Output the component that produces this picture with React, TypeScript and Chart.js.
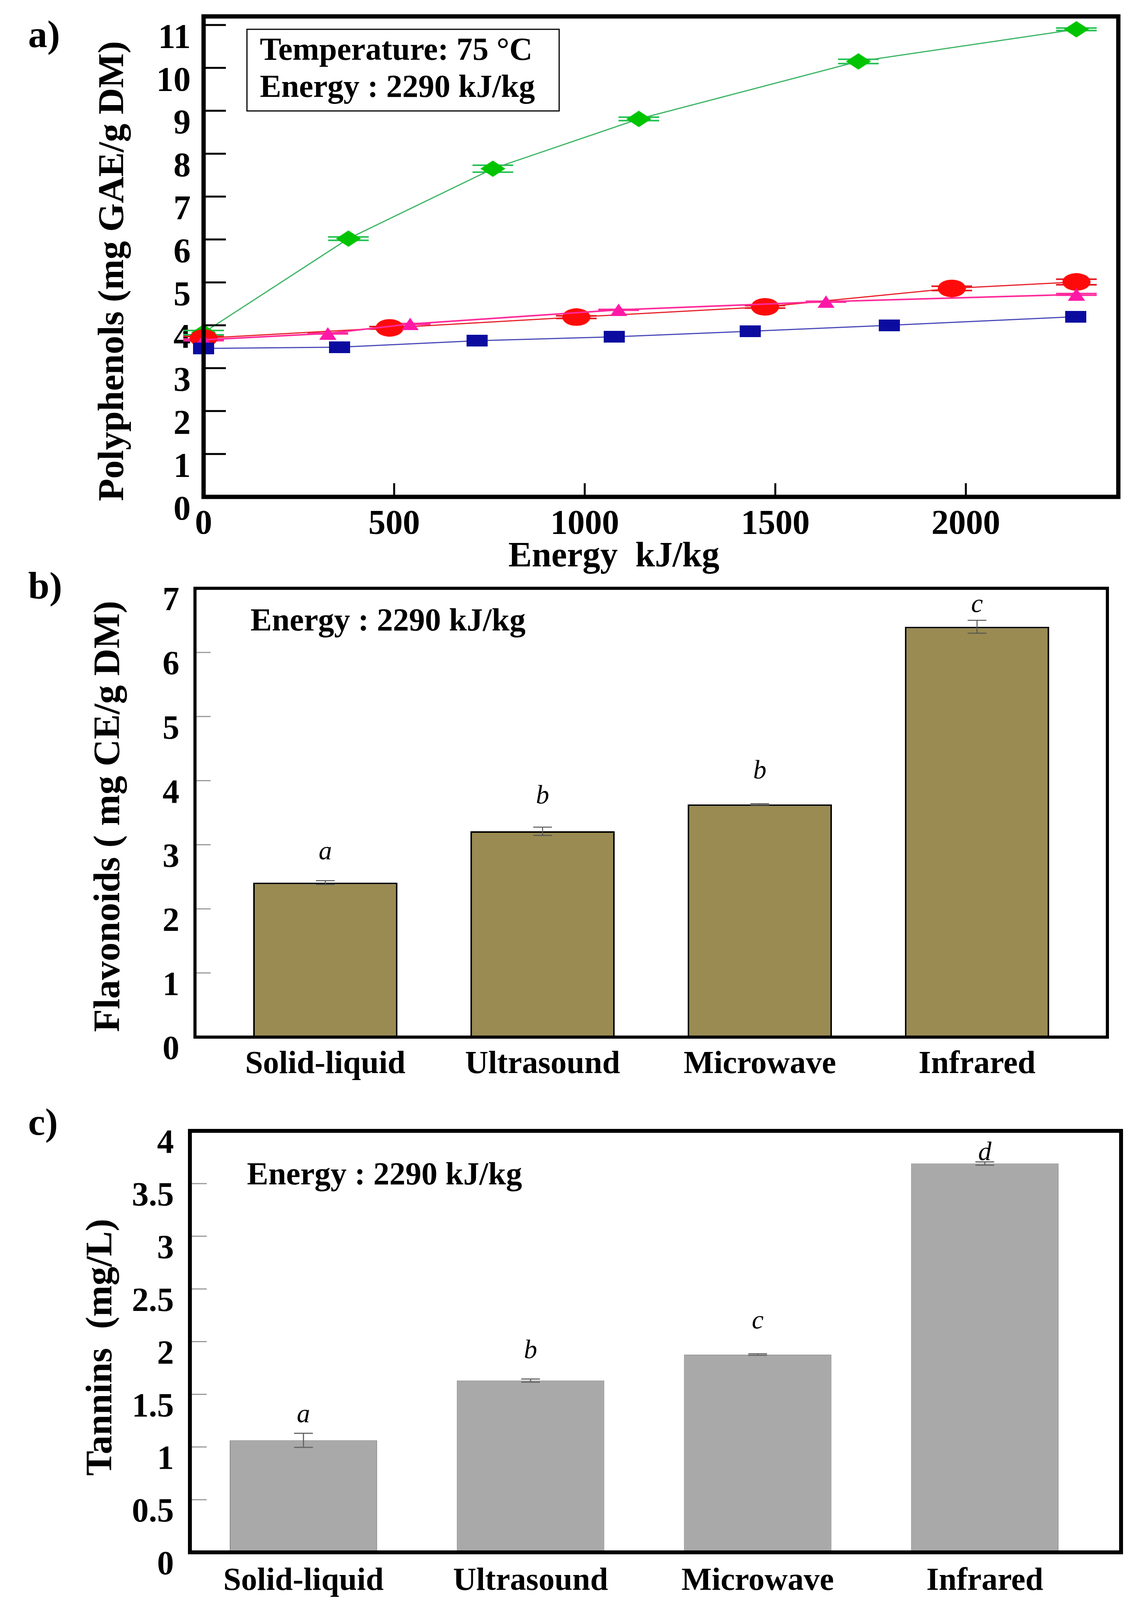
import React, { useEffect, useRef } from "react";
import { Chart, registerables } from "chart.js";

Chart.register(...registerables);

const SERIF = '"Liberation Serif", "Times New Roman", Times, serif';
const PAGE_W = 2897;

// ---------- Panel a : polyphenols vs energy ----------
const energyMax = 2400;
const energyTicks = [0, 500, 1000, 1500, 2000];
const polyMax = 11.2;
const greenX = [0, 380, 759, 1142, 1718, 2290];
const greenY = [3.83, 6.02, 7.65, 8.81, 10.15, 10.9];
const greenErr = [0.05, 0.04, 0.08, 0.04, 0.05, 0.03];
const redX = [0, 488, 978, 1473, 1963, 2290];
const redY = [3.7, 3.94, 4.19, 4.43, 4.86, 5.01];
const redErr = [0.04, 0.03, 0.03, 0.03, 0.05, 0.065];
const pinkX = [0, 326, 542, 1089, 1633, 2290];
const pinkY = [3.66, 3.81, 4.03, 4.36, 4.55, 4.72];
const pinkErr = [0.02, 0.01, 0.01, 0.01, 0.01, 0.02];
const blueX = [0, 357, 718, 1077, 1434, 1799, 2288];
const blueY = [3.46, 3.49, 3.64, 3.73, 3.86, 4.0, 4.2];

// ---------- Panels b and c : methods ----------
const methods = ["Solid-liquid", "Ultrasound", "Microwave", "Infrared"];
const flavValues = [2.41, 3.21, 3.63, 6.4];
const flavErr = [0.03, 0.065, 0.01, 0.1];
const flavLetters = ["a", "b", "b", "c"];
const flavLetterY = [2.88, 3.75, 4.14, 6.74];
const tanValues = [1.063, 1.63, 1.877, 3.69];
const tanErr = [0.067, 0.015, 0.007, 0.015];
const tanLetters = ["a", "b", "c", "d"];
const tanLetterY = [1.3, 1.91, 2.19, 3.79];

function marker(kind: string, w: number, h: number, color: string) {
  const c = document.createElement("canvas");
  c.width = w;
  c.height = h;
  const g = c.getContext("2d")!;
  g.fillStyle = color;
  g.beginPath();
  if (kind === "diamond") {
    g.moveTo(w / 2, 0);
    g.lineTo(w, h / 2);
    g.lineTo(w / 2, h);
    g.lineTo(0, h / 2);
  } else if (kind === "ellipse") {
    g.ellipse(w / 2, h / 2, w / 2, h / 2, 0, 0, Math.PI * 2);
  } else if (kind === "triangle") {
    g.moveTo(w / 2, 0);
    g.lineTo(w, h);
    g.lineTo(0, h);
  } else {
    g.rect(0, 0, w, h);
  }
  g.closePath();
  g.fill();
  return c;
}

function font(size: number, weight = "bold", style = "normal") {
  return `${style} ${weight} ${size}px ${SERIF}`;
}

function hText(ctx: CanvasRenderingContext2D, s: string, x: number, y: number, f: string, align: CanvasTextAlign = "left") {
  ctx.save();
  ctx.font = f;
  ctx.fillStyle = "#000";
  ctx.textAlign = align;
  ctx.textBaseline = "alphabetic";
  ctx.fillText(s, x, y);
  ctx.restore();
}

function vText(ctx: CanvasRenderingContext2D, s: string, x: number, y: number, f: string) {
  ctx.save();
  ctx.translate(x, y);
  ctx.rotate(-Math.PI / 2);
  ctx.font = f;
  ctx.fillStyle = "#000";
  ctx.textAlign = "center";
  ctx.textBaseline = "alphabetic";
  ctx.fillText(s, 0, 0);
  ctx.restore();
}

function frame(chart: any, lw: number) {
  const { ctx, chartArea: a } = chart;
  ctx.save();
  ctx.strokeStyle = "#000";
  ctx.lineWidth = lw;
  ctx.strokeRect(a.left, a.top, a.right - a.left, a.bottom - a.top);
  ctx.restore();
}

function inwardTicks(chart: any, axis: "x" | "y", len: number, lw: number, color: string) {
  const { ctx, chartArea: a } = chart;
  const s = chart.scales[axis];
  ctx.save();
  ctx.strokeStyle = color;
  ctx.lineWidth = lw;
  for (const t of s.ticks) {
    if (t.value <= s.min || t.value >= s.max) continue;
    const p = s.getPixelForValue(t.value);
    ctx.beginPath();
    if (axis === "y") {
      ctx.moveTo(a.left, p);
      ctx.lineTo(a.left + len, p);
    } else {
      ctx.moveTo(p, a.bottom);
      ctx.lineTo(p, a.bottom - len);
    }
    ctx.stroke();
  }
  ctx.restore();
}

function fixY(w: number) {
  return (s: any) => {
    s.width = w;
    s.paddingTop = 0;
    s.paddingBottom = 0;
    s.paddingLeft = 0;
    s.paddingRight = 0;
  };
}
function fixX(h: number) {
  return (s: any) => {
    s.height = h;
    s.paddingTop = 0;
    s.paddingBottom = 0;
    s.paddingLeft = 0;
    s.paddingRight = 0;
  };
}

function decorPlugin(top: number, before: (c: any) => void, after: (c: any) => void, page: (ctx: CanvasRenderingContext2D) => void) {
  return {
    id: "decor",
    beforeDatasetsDraw(chart: any) {
      before(chart);
    },
    afterDraw(chart: any) {
      after(chart);
      const ctx = chart.ctx;
      ctx.save();
      ctx.translate(0, -top);
      page(ctx);
      ctx.restore();
    },
  };
}

function pts(xs: number[], ys: number[]) {
  return xs.map((x, i) => ({ x, y: ys[i] }));
}

// ---------------- Panel a ----------------
const A_TOP = 0;
const A_H = 1480;
function buildA() {
  const mk = {
    green: marker("diamond", 64, 42, "#00c400"),
    red: marker("ellipse", 72, 45, "#ff0a0a"),
    pink: marker("triangle", 44, 32, "#ff18a8"),
    blue: marker("rect", 54, 30, "#0b0ba0"),
  };
  const caps = [
    { xs: greenX, ys: greenY, es: greenErr, color: "#22c050" },
    { xs: redX, ys: redY, es: redErr, color: "#e0141c" },
    { xs: pinkX, ys: pinkY, es: pinkErr, color: "#ff2aa0" },
  ];
  const base = { showLine: true, tension: 0, pointRadius: 20, pointBorderWidth: 0, clip: false as any };
  const tickFont = { family: SERIF, size: 88, weight: "bold" as any };
  return {
    type: "scatter" as const,
    data: {
      datasets: [
        { ...base, label: "blue", data: pts(blueX, blueY), borderColor: "#4a4ab8", borderWidth: 3, pointStyle: mk.blue },
        { ...base, label: "pink", data: pts(pinkX, pinkY), borderColor: "#ff2a9a", borderWidth: 4, pointStyle: mk.pink },
        { ...base, label: "red", data: pts(redX, redY), borderColor: "#e8202a", borderWidth: 3, pointStyle: mk.red },
        { ...base, label: "green", data: pts(greenX, greenY), borderColor: "#3db565", borderWidth: 3, pointStyle: mk.green },
      ],
    },
    options: {
      animation: false,
      responsive: false,
      devicePixelRatio: 1,
      layout: { padding: { left: 0, top: 42, right: PAGE_W - 2862, bottom: A_H - 1272 - 150 } },
      plugins: { legend: { display: false }, tooltip: { enabled: false } },
      scales: {
        x: {
          type: "linear",
          min: 0,
          max: energyMax,
          afterFit: fixX(150),
          afterBuildTicks: (s: any) => { s.ticks = energyTicks.map((v) => ({ value: v })); },
          grid: { display: false, drawTicks: false },
          border: { display: false },
          ticks: {
            autoSkip: false,
            maxRotation: 0,
            padding: 18,
            color: "#000",
            font: tickFont,
            callback: (v: any) => String(v),
          },
        },
        y: {
          type: "linear",
          min: 0,
          max: polyMax,
          afterFit: fixY(521),
          grid: { display: false, drawTicks: false },
          border: { display: false },
          ticks: {
            stepSize: 1,
            includeBounds: false,
            autoSkip: false,
            padding: 33,
            labelOffset: 35,
            color: "#000",
            font: tickFont,
            callback: (v: any) => String(v),
          },
        },
      },
    },
    plugins: [
      decorPlugin(
        A_TOP,
        (chart) => {
          const { ctx } = chart;
          const sx = chart.scales.x;
          const sy = chart.scales.y;
          ctx.save();
          ctx.lineWidth = 4;
          for (const c of caps) {
            ctx.strokeStyle = c.color;
            c.xs.forEach((xv, i) => {
              const px = sx.getPixelForValue(xv);
              for (const yv of [c.ys[i] - c.es[i], c.ys[i] + c.es[i]]) {
                const py = sy.getPixelForValue(yv);
                ctx.beginPath();
                ctx.moveTo(px - 52, py);
                ctx.lineTo(px + 52, py);
                ctx.stroke();
              }
            });
          }
          ctx.restore();
        },
        (chart) => {
          inwardTicks(chart, "y", 57, 5, "#000");
          inwardTicks(chart, "x", 35, 5, "#000");
          frame(chart, 11);
        },
        (ctx) => {
          ctx.save();
          ctx.strokeStyle = "#000";
          ctx.lineWidth = 3;
          ctx.strokeRect(632, 75, 799, 209);
          ctx.restore();
          hText(ctx, "Temperature: 75 °C", 665, 153, font(82));
          hText(ctx, "Energy : 2290 kJ/kg", 665, 248, font(82));
          hText(ctx, "Energy  kJ/kg", 1571, 1450, font(90), "center");
          vText(ctx, "Polyphenols (mg GAE/g DM)", 315, 694, font(94));
          hText(ctx, "a)", 72, 120, font(98));
        }
      ),
    ],
  };
}

// ---------------- Bar panels ----------------
type BarSpec = {
  top: number;
  height: number;
  area: { left: number; top: number; right: number; bottom: number };
  xAxisH: number;
  xMin: number;
  xMax: number;
  yMax: number;
  yStep: number;
  values: number[];
  errs: number[];
  letters: string[];
  letterY: number[];
  fill: string;
  border: string;
  borderW: number;
  barPct: number;
  frameW: number;
  tickLen: number;
  errColor: string;
  errW: number;
  xPad: number;
  yPad: number;
  title: string;
  titleX: number;
  titleY: number;
  panel: string;
  panelY: number;
  noteX: number;
  noteY: number;
};

function buildBar(sp: BarSpec) {
  return {
    type: "bar" as const,
    data: {
      datasets: [
        {
          label: sp.title,
          data: methods.map((_, i) => ({ x: i, y: sp.values[i] })),
          backgroundColor: sp.fill,
          borderColor: sp.border,
          borderWidth: sp.borderW,
          categoryPercentage: 1,
          barPercentage: sp.barPct,
        },
      ],
    },
    options: {
      animation: false,
      responsive: false,
      devicePixelRatio: 1,
      layout: {
        padding: {
          left: 0,
          top: sp.area.top - sp.top,
          right: PAGE_W - sp.area.right,
          bottom: sp.height - (sp.area.bottom - sp.top) - sp.xAxisH,
        },
      },
      plugins: { legend: { display: false }, tooltip: { enabled: false } },
      scales: {
        x: {
          type: "linear",
          min: sp.xMin,
          max: sp.xMax,
          offset: false,
          afterFit: fixX(sp.xAxisH),
          afterBuildTicks: (s: any) => { s.ticks = methods.map((_, i) => ({ value: i })); },
          grid: { display: false, drawTicks: false },
          border: { display: false },
          ticks: {
            autoSkip: false,
            maxRotation: 0,
            padding: sp.xPad,
            color: "#000",
            font: { family: SERIF, size: 82, weight: "bold" as any },
            callback: (v: any) => methods[Math.round(Number(v))] ?? "",
          },
        },
        y: {
          type: "linear",
          min: 0,
          max: sp.yMax,
          afterFit: fixY(sp.area.left),
          grid: { display: false, drawTicks: false },
          border: { display: false },
          ticks: {
            stepSize: sp.yStep,
            autoSkip: false,
            padding: sp.yPad,
            labelOffset: 34,
            color: "#000",
            font: { family: SERIF, size: 86, weight: "bold" as any },
            callback: (v: any) => String(v),
          },
        },
      },
    },
    plugins: [
      decorPlugin(
        sp.top,
        () => {},
        (chart) => {
          const { ctx } = chart;
          const sx = chart.scales.x;
          const sy = chart.scales.y;
          inwardTicks(chart, "y", sp.tickLen, 3, "#9a9a9a");
          ctx.save();
          ctx.strokeStyle = sp.errColor;
          ctx.lineWidth = sp.errW;
          sp.values.forEach((v, i) => {
            const px = sx.getPixelForValue(i);
            const lo = sy.getPixelForValue(v - sp.errs[i]);
            const hi = sy.getPixelForValue(v + sp.errs[i]);
            ctx.beginPath();
            ctx.moveTo(px, lo);
            ctx.lineTo(px, hi);
            ctx.moveTo(px - 24, lo);
            ctx.lineTo(px + 24, lo);
            ctx.moveTo(px - 24, hi);
            ctx.lineTo(px + 24, hi);
            ctx.stroke();
          });
          ctx.restore();
          ctx.save();
          ctx.font = font(68, "normal", "italic");
          ctx.fillStyle = "#000";
          ctx.textAlign = "center";
          ctx.textBaseline = "middle";
          sp.letters.forEach((l, i) => {
            ctx.fillText(l, sx.getPixelForValue(i), sy.getPixelForValue(sp.letterY[i]));
          });
          ctx.restore();
          frame(chart, sp.frameW);
        },
        (ctx) => {
          hText(ctx, "Energy : 2290 kJ/kg", sp.noteX, sp.noteY, font(82));
          vText(ctx, sp.title, sp.titleX, sp.titleY, font(96));
          hText(ctx, sp.panel, 72, sp.panelY, font(98));
        }
      ),
    ],
  };
}

const specB: BarSpec = {
  top: 1440,
  height: 1340,
  area: { left: 499, top: 1506, right: 2834, bottom: 2655 },
  xAxisH: 110,
  xMin: -0.6,
  xMax: 3.6,
  yMax: 7,
  yStep: 1,
  values: flavValues,
  errs: flavErr,
  letters: flavLetters,
  letterY: flavLetterY,
  fill: "#9a8b52",
  border: "#000",
  borderW: 4,
  barPct: 0.664,
  frameW: 8,
  tickLen: 40,
  errColor: "#555",
  errW: 2.5,
  xPad: 22,
  yPad: 40,
  title: "Flavonoids ( mg CE/g DM)",
  titleX: 305,
  titleY: 2090,
  panel: "b)",
  panelY: 1532,
  noteX: 641,
  noteY: 1614,
};

const specC: BarSpec = {
  top: 2780,
  height: 1361,
  area: { left: 486, top: 2895, right: 2869, bottom: 3974 },
  xAxisH: 140,
  xMin: -0.5,
  xMax: 3.6,
  yMax: 4,
  yStep: 0.5,
  values: tanValues,
  errs: tanErr,
  letters: tanLetters,
  letterY: tanLetterY,
  fill: "#a9a9a9",
  border: "#888",
  borderW: 2,
  barPct: 0.649,
  frameW: 10,
  tickLen: 43,
  errColor: "#666",
  errW: 3,
  xPad: 26,
  yPad: 41,
  title: "Tannins  (mg/L)",
  titleX: 285,
  titleY: 3449,
  panel: "c)",
  panelY: 2905,
  noteX: 632,
  noteY: 3032,
};

function ChartCanvas({ top, height, build }: { top: number; height: number; build: () => any }) {
  const ref = useRef<HTMLCanvasElement>(null);
  useEffect(() => {
    const chart = new Chart(ref.current!, build());
    return () => chart.destroy();
  }, []);
  return (
    <canvas
      ref={ref}
      width={PAGE_W}
      height={height}
      style={{ position: "absolute", left: 0, top, width: PAGE_W, height, display: "block" }}
    />
  );
}

export default function App() {
  return (
    <div>
      <ChartCanvas top={A_TOP} height={A_H} build={buildA} />
      <ChartCanvas top={specB.top} height={specB.height} build={() => buildBar(specB)} />
      <ChartCanvas top={specC.top} height={specC.height} build={() => buildBar(specC)} />
    </div>
  );
}
